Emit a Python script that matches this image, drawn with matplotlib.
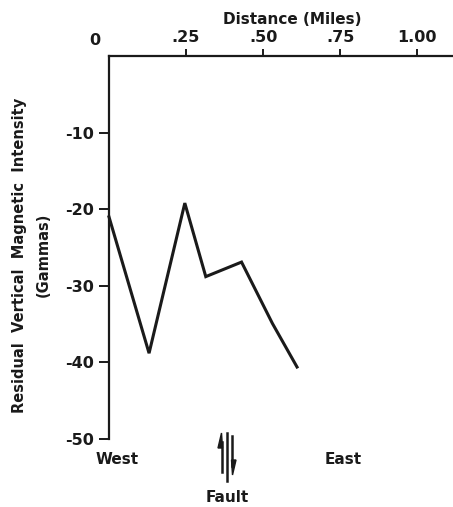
import matplotlib
matplotlib.use("Agg")
import matplotlib.pyplot as plt

plt.rcParams['font.family'] = ['DejaVu Sans']
plt.rcParams['font.weight'] = 'bold'
plt.rcParams['axes.unicode_minus'] = False

# Data
distance_miles = [0.0, 0.13, 0.246, 0.314, 0.43, 0.53, 0.61]
intensity_gammas = [-21.0, -38.8, -19.2, -28.8, -26.9, -34.9, -40.6]

x_ticks = [0.25, 0.50, 0.75, 1.00]
x_tick_labels = [".25", ".50", ".75", "1.00"]
y_ticks = [-10, -20, -30, -40, -50]
y_tick_labels = ["-10", "-20", "-30", "-40", "-50"]

INK = '#1a1a1a'

fig = plt.figure(figsize=(4.53, 5.07), dpi=100)
ax = fig.add_axes([0.2406, 0.1341, 0.7594, 0.7554])

ax.plot(distance_miles, intensity_gammas, color=INK, lw=2.2,
        solid_joinstyle='miter', clip_on=False)

ax.set_xlim(0, 1.116)
ax.set_ylim(-50, 0)

for s in ['right', 'bottom']:
    ax.spines[s].set_visible(False)
for s in ['left', 'top']:
    ax.spines[s].set_linewidth(1.6)
    ax.spines[s].set_color(INK)

ax.xaxis.set_ticks_position('top')
ax.xaxis.set_label_position('top')
ax.set_xticks(x_ticks)
ax.set_xticklabels(x_tick_labels, fontsize=11.5, fontweight='bold')
ax.set_yticks(y_ticks)
ax.set_yticklabels(y_tick_labels, fontsize=11.5, fontweight='bold')
ax.tick_params(axis='x', direction='out', length=5, width=1.4, pad=3, colors=INK)
ax.tick_params(axis='y', direction='out', length=7, width=1.4, pad=4, colors=INK)

ax.set_xlabel("Distance (Miles)", fontsize=11, fontweight='bold', color=INK)
ax.xaxis.set_label_coords(0.532, 1.0 + 32/383)

# corner zero
ax.annotate("0", xy=(0, 0), xytext=(-10, 6), textcoords='offset points',
            ha='center', va='bottom', fontsize=11.5, fontweight='bold', color=INK)

# y label (two lines)
fig.text(0.044, 0.497, "Residual  Vertical  Magnetic  Intensity", rotation=90,
         ha='center', va='center', fontsize=10.5, fontweight='bold', color=INK)
fig.text(0.095, 0.497, "(Gammas)", rotation=90,
         ha='center', va='center', fontsize=10.5, fontweight='bold', color=INK)

# West / East / Fault
fig.text(117/453, 1-460/507, "West", ha='center', va='center', fontsize=11, fontweight='bold', color=INK)
fig.text(343/453, 1-460/507, "East", ha='center', va='center', fontsize=11, fontweight='bold', color=INK)
fig.text(227/453, 1-498/507, "Fault", ha='center', va='center', fontsize=11, fontweight='bold', color=INK)

# Fault symbol
fig.add_artist(plt.Line2D([227/453, 227/453], [1-433/507, 1-481/507], color=INK, lw=1.8))
fig.add_artist(plt.Line2D([221.5/453, 221.5/453], [1-442/507, 1-472/507], color=INK, lw=1.8))
fig.add_artist(plt.Polygon([[221.5/453, 1-433/507], [218/453, 1-448/507], [222.5/453, 1-448/507]],
                           closed=True, color=INK, transform=fig.transFigure))
fig.add_artist(plt.Line2D([232.5/453, 232.5/453], [1-436/507, 1-466/507], color=INK, lw=1.8))
fig.add_artist(plt.Polygon([[232.5/453, 1-475/507], [236/453, 1-460/507], [231.5/453, 1-460/507]],
                           closed=True, color=INK, transform=fig.transFigure))

fig.savefig("out.png", dpi=100)
